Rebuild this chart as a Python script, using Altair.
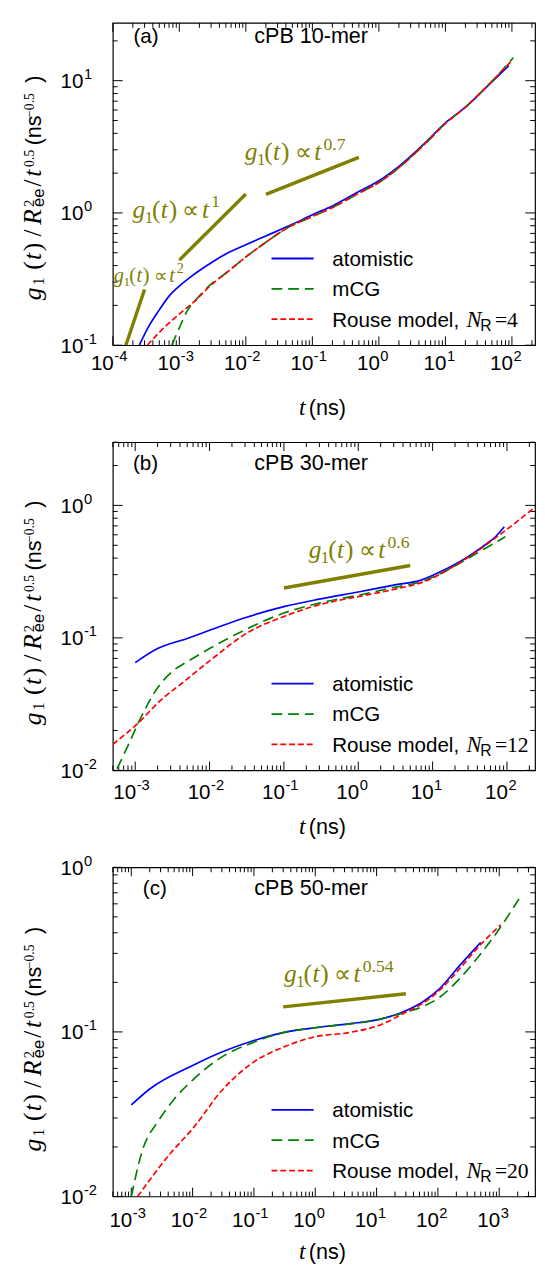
import math
import altair as alt
import pandas as pd

# ---------------- data ----------------
SERIES = ["atomistic", "mCG", "Rouse"]
COLORS = ["#0000ff", "#008000", "#ff0000"]
DASHES = [None, [11, 6], [6, 3]]

# panel (a) cPB 10-mer
a_atom_t = [2.5e-4, 3.5e-4, 5e-4, 7e-4, 1e-3, 1.5e-3, 2.5e-3, 5e-3, 0.01, 0.02, 0.05, 0.1, 0.2, 0.5, 1, 2, 5, 10, 20, 50, 90]
a_atom_g = [0.10, 0.14, 0.185, 0.235, 0.28, 0.33, 0.395, 0.49, 0.575, 0.67, 0.82, 0.97, 1.13, 1.45, 1.75, 2.25, 3.4, 4.8, 6.3, 9.8, 13.0]
a_mcg_t = [7.7e-4, 1e-3, 1.3e-3, 1.8e-3, 3e-3, 5e-3, 0.01, 0.02, 0.04, 0.1, 0.2, 0.5, 1, 2, 5, 10, 20, 50, 105]
a_mcg_g = [0.10, 0.135, 0.18, 0.222, 0.29, 0.35, 0.465, 0.6, 0.76, 0.94, 1.1, 1.41, 1.7, 2.2, 3.35, 4.75, 6.3, 9.9, 14.9]
a_rouse_t = [3.3e-4, 5e-4, 1e-3, 1.7e-3, 3e-3, 5e-3, 0.01, 0.02, 0.04, 0.1, 0.2, 0.5, 1, 2, 5, 10, 20, 50, 100]
a_rouse_g = [0.10, 0.125, 0.172, 0.215, 0.285, 0.35, 0.465, 0.6, 0.76, 0.94, 1.1, 1.41, 1.7, 2.2, 3.35, 4.75, 6.3, 9.9, 14.2]

# panel (b) cPB 30-mer
b_atom_t = [1e-3, 2e-3, 5e-3, 0.01, 0.03, 0.1, 0.3, 1, 3, 7, 15, 30, 50, 70, 92]
b_atom_g = [0.065, 0.083, 0.099, 0.114, 0.142, 0.172, 0.196, 0.222, 0.25, 0.273, 0.33, 0.41, 0.50, 0.58, 0.69]
b_mcg_t = [5.7e-4, 7.8e-4, 1.1e-3, 2e-3, 3.3e-3, 5e-3, 0.01, 0.03, 0.1, 0.3, 1, 3, 7.7, 15, 26, 50, 95]
b_mcg_g = [0.0103, 0.0149, 0.0228, 0.042, 0.057, 0.066, 0.083, 0.115, 0.154, 0.183, 0.21, 0.24, 0.27, 0.32, 0.38, 0.47, 0.58]
b_rouse_t = [5e-4, 1.1e-3, 2.1e-3, 4.8e-3, 0.01, 0.033, 0.1, 0.3, 1, 3, 8, 26, 80, 250]
b_rouse_g = [0.0157, 0.0228, 0.033, 0.048, 0.067, 0.11, 0.145, 0.178, 0.205, 0.232, 0.268, 0.385, 0.6, 0.99]

# panel (c) cPB 50-mer
c_atom_t = [1e-3, 2e-3, 0.01, 0.03, 0.1, 0.3, 1, 3.5, 12, 28, 58, 108, 224, 500]
c_atom_g = [0.036, 0.045, 0.0625, 0.0755, 0.0886, 0.099, 0.106, 0.112, 0.12, 0.133, 0.153, 0.184, 0.252, 0.35]
c_mcg_t = [1e-3, 1.5e-3, 2.8e-3, 5e-3, 0.01, 0.031, 0.1, 0.3, 1, 12, 28, 58, 108, 224, 470, 980, 2100]
c_mcg_g = [0.0100, 0.0188, 0.029, 0.039, 0.051, 0.071, 0.0865, 0.099, 0.106, 0.12, 0.131, 0.143, 0.163, 0.21, 0.29, 0.417, 0.643]
c_rouse_t = [1.27e-3, 4.1e-3, 0.01, 0.031, 0.1, 0.3, 1, 3.5, 12, 28, 58, 108, 224, 470, 1060]
c_rouse_g = [0.0100, 0.0178, 0.0258, 0.0447, 0.0658, 0.0807, 0.0935, 0.099, 0.111, 0.13, 0.15, 0.18, 0.241, 0.332, 0.447]

# power-law guide segments (t, g) pairs
a_guides = [[(1.57e-4, 0.1), (3.0e-4, 0.264)], [(1e-3, 0.44), (1e-2, 1.39)], [(0.02, 1.38), (0.5, 2.63)]]
b_guides = [[(0.1, 0.238), (5, 0.352)]]
c_guides = [[(0.3, 0.142), (30, 0.1706)]]

# guide labels: exponent text, anchor t, anchor g, relative size
a_glabels = [("2", 1.03e-4, 0.301, 0.8), ("1", 1.97e-4, 0.914, 1.0), ("0.7", 9.6e-3, 2.5, 1.0)]
b_glabels = [("0.6", 0.215, 0.398, 1.0)]
c_glabels = [("0.54", 0.309, 0.2, 1.0)]

# ---------------- styling helpers ----------------
SANS = "Liberation Sans, Arial, Helvetica, sans-serif"
SERIF = "Liberation Serif, Times New Roman, serif"
OLIVE = "#808000"
ONE = pd.DataFrame({"k": [0]})
W = 431


def tick_sets(lo, hi):
    allv, maj = [], []
    for e in range(-6, 7):
        for m in range(1, 10):
            v = float(f"{m}e{e}")
            if lo * 0.9999 <= v <= hi * 1.0001:
                allv.append(v)
                if m == 1:
                    maj.append(v)
    return allv, maj


def txt(text, x, y, font=SANS, size=21, style="normal", align="left",
        baseline="alphabetic", angle=0, color="black", clip=False):
    kw = dict(text=text, font=font, fontSize=size, fontStyle=style, align=align,
              baseline=baseline, color=color)
    if angle:
        kw["angle"] = angle
    if clip:
        kw["clip"] = True
    return alt.Chart(ONE).mark_text(**kw).encode(x=alt.value(x), y=alt.value(y))


def panel(P):
    H = P["H"]
    xs = alt.Scale(type="log", domain=P["xdom"], nice=False)
    ys = alt.Scale(type="log", domain=P["ydom"], nice=False)
    xv, xm = tick_sets(*P["xdom"])
    yv, ym = tick_sets(*P["ydom"])

    layers = []
    # anchor that fixes the left extent of every panel
    layers.append(alt.Chart(ONE).mark_rule(color="white").encode(
        x=alt.value(-105), y=alt.value(0), y2=alt.value(4)))

    # inward ticks on all four sides (major and minor), placed through the scales
    xmin = [v for v in xv if v not in xm]
    ymin = [v for v in yv if v not in ym]
    for vals, ln in ((xm, 9), (xmin, 5)):
        d = pd.DataFrame({"v": vals})
        layers.append(alt.Chart(d).mark_rule(color="black", strokeWidth=1).encode(
            x=alt.X("v:Q", scale=xs, axis=None), y=alt.value(H), y2=alt.value(H - ln)))
        layers.append(alt.Chart(d).mark_rule(color="black", strokeWidth=1).encode(
            x=alt.X("v:Q", scale=xs, axis=None), y=alt.value(0), y2=alt.value(ln)))
    for vals, ln in ((ym, 10), (ymin, 5)):
        d = pd.DataFrame({"v": vals})
        layers.append(alt.Chart(d).mark_rule(color="black", strokeWidth=1).encode(
            y=alt.Y("v:Q", scale=ys, axis=None), x=alt.value(0), x2=alt.value(ln)))
        layers.append(alt.Chart(d).mark_rule(color="black", strokeWidth=1).encode(
            y=alt.Y("v:Q", scale=ys, axis=None), x=alt.value(W), x2=alt.value(W - ln)))

    # tick labels 10^n : "10" plus raised exponent
    dx_ = pd.DataFrame({"v": xm, "e": [str(int(round(math.log10(v)))) for v in xm]})
    dy_ = pd.DataFrame({"v": ym, "e": [str(int(round(math.log10(v)))) for v in ym]})
    yb = H + P["xpad"]
    layers.append(alt.Chart(dx_).mark_text(text="10", font=SANS, fontSize=21, align="right",
                                           baseline="alphabetic", dx=1, color="black").encode(
        x=alt.X("v:Q", scale=xs, axis=None), y=alt.value(yb)))
    layers.append(alt.Chart(dx_).mark_text(font=SANS, fontSize=15, align="left",
                                           baseline="alphabetic", dx=1.5, color="black").encode(
        x=alt.X("v:Q", scale=xs, axis=None), y=alt.value(yb - 9), text="e:N"))
    layers.append(alt.Chart(dy_).mark_text(text="10", font=SANS, fontSize=21, align="right",
                                           baseline="alphabetic", dy=7.5, color="black").encode(
        y=alt.Y("v:Q", scale=ys, axis=None), x=alt.value(-30)))
    layers.append(alt.Chart(dy_).mark_text(font=SANS, fontSize=15, align="left",
                                           baseline="alphabetic", dy=-1.5, color="black").encode(
        y=alt.Y("v:Q", scale=ys, axis=None), x=alt.value(-29.5), text="e:N"))

    # guides
    grows = []
    for gi, seg in enumerate(P["guides"]):
        for t, g in seg:
            grows.append({"gid": gi, "t": t, "g": g})
    layers.append(alt.Chart(pd.DataFrame(grows)).mark_line(color=OLIVE, strokeWidth=3.5, clip=True).encode(
        x=alt.X("t:Q", scale=xs, axis=None), y=alt.Y("g:Q", scale=ys, axis=None), detail="gid:N"))
    for sup, t, g, k in P["glabels"]:
        anchor = pd.DataFrame({"t": [t], "g": [g]})
        parts = [("g", 0, 0, "italic", 26), ("1", 12.5, 5, "normal", 17), ("(", 20, 0, "normal", 26),
                 ("t", 29, 0, "italic", 26), (")", 37, 0, "normal", 26), ("∝", 51, 0, "normal", 24),
                 ("t", 71, 0, "italic", 26), (sup, 80.5, -11, "normal", 18)]
        for s, off, dy, style, fs in parts:
            layers.append(alt.Chart(anchor).mark_text(
                text=s, font=SERIF, fontStyle=style, fontSize=fs * k, color=OLIVE,
                align="left", baseline="alphabetic", dx=off * k, dy=dy * k).encode(
                x=alt.X("t:Q", scale=xs, axis=None), y=alt.Y("g:Q", scale=ys, axis=None)))

    for i, (name, t, g) in enumerate(P["series"]):
        df = pd.DataFrame({"t": t, "g": g, "series": name})
        mk = dict(clip=True, strokeWidth=1.7, interpolate="monotone", color=COLORS[i])
        if DASHES[i]:
            mk["strokeDash"] = DASHES[i]
        layers.append(alt.Chart(df).mark_line(**mk).encode(
            x=alt.X("t:Q", scale=xs, axis=None), y=alt.Y("g:Q", scale=ys, axis=None), order="t:Q"))

    # panel label and title
    lx, ly = P["label_pos"]
    layers.append(txt(P["label"], lx, ly, size=21))
    layers.append(txt(P["title"], 260.5, P["title_y"], size=22, align="right"))

    # legend
    rows = [H - 88.5, H - 57.5, H - 26.5]
    for i in range(3):
        mk = dict(color=COLORS[i], strokeWidth=1.8)
        if DASHES[i]:
            mk["strokeDash"] = DASHES[i]
        layers.append(alt.Chart(ONE).mark_rule(**mk).encode(
            x=alt.value(162), x2=alt.value(205), y=alt.value(rows[i])))
    layers.append(txt("atomistic", 224, rows[0] + 7.5))
    layers.append(txt("mCG", 224, rows[1] + 7.5))
    layers.append(txt("Rouse model,", 224, rows[2] + 7.5, clip=True))
    layers.append(txt("N", 361, rows[2] + 7.5, font=SERIF, style="italic", size=23, clip=True))
    layers.append(txt("R", 375, rows[2] + 12, size=16, clip=True))
    layers.append(txt("=" + P["nr"], 390, rows[2] + 7.5, font=SERIF, size=22, clip=True))

    # x title
    xb = H + P["xtitle_dy"]
    layers.append(txt("t", 190, xb, font=SERIF, style="italic", size=24))
    layers.append(txt("(ns)", 200, xb, size=22))

    # y title (rotated pieces, read bottom to top)
    cy = H - 164
    bx, sub, sup = -73, -70.5, -80.5
    pieces = [
        ("g", 118, bx, SERIF, "italic", 26),
        ("1", 103, sub, SERIF, "normal", 17),
        ("(", 87, bx, SERIF, "normal", 26),
        ("t", 77, bx, SERIF, "italic", 26),
        (")", 68, bx, SERIF, "normal", 26),
        ("/", 53, bx, SERIF, "normal", 26),
        ("R", 41, bx, SERIF, "italic", 26),
        ("2", 23, sup, SERIF, "normal", 15),
        ("ee", 23, sub, SANS, "normal", 17),
        ("/", 2, bx, SERIF, "normal", 26),
        ("t", -8, bx, SERIF, "italic", 26),
        ("0.5", -18, sup, SERIF, "normal", 14),
        ("(ns", -40, bx, SANS, "normal", 22),
        ("−0.5", -68, sup, SERIF, "normal", 14),
        (")", -104, bx, SANS, "normal", 22),
    ]
    for text, off, x, font, style, fs in pieces:
        layers.append(txt(text, x, cy + off, font=font, size=fs, style=style, angle=270))

    return alt.layer(*layers).properties(width=W, height=H)


PA = dict(H=329, xdom=[1e-4, 222.6], ydom=[0.1, 27.35], xpad=25, xtitle_dy=71.5,
          label="(a)", label_pos=(21, 21), title="cPB 10-mer", title_y=21, nr="4",
          series=[(SERIES[0], a_atom_t, a_atom_g), (SERIES[1], a_mcg_t, a_mcg_g), (SERIES[2], a_rouse_t, a_rouse_g)],
          guides=a_guides, glabels=a_glabels)
PB = dict(H=335, xdom=[5e-4, 238.5], ydom=[0.01, 3.0], xpad=29, xtitle_dy=65,
          label="(b)", label_pos=(20.5, 28), title="cPB 30-mer", title_y=28, nr="12",
          series=[(SERIES[0], b_atom_t, b_atom_g), (SERIES[1], b_mcg_t, b_mcg_g), (SERIES[2], b_rouse_t, b_rouse_g)],
          guides=b_guides, glabels=b_glabels)
PC = dict(H=336, xdom=[5e-4, 3837], ydom=[0.01, 1.0], xpad=31, xtitle_dy=64,
          label="(c)", label_pos=(30.6, 28), title="cPB 50-mer", title_y=28, nr="20",
          series=[(SERIES[0], c_atom_t, c_atom_g), (SERIES[1], c_mcg_t, c_mcg_g), (SERIES[2], c_rouse_t, c_rouse_g)],
          guides=c_guides, glabels=c_glabels)

chart = alt.vconcat(panel(PA), panel(PB), panel(PC), spacing=99, bounds="flush", padding=0).configure_view(
    stroke="black", strokeWidth=1.2)

chart.save("out.html", embed_options={"renderer": "svg", "actions": False})
